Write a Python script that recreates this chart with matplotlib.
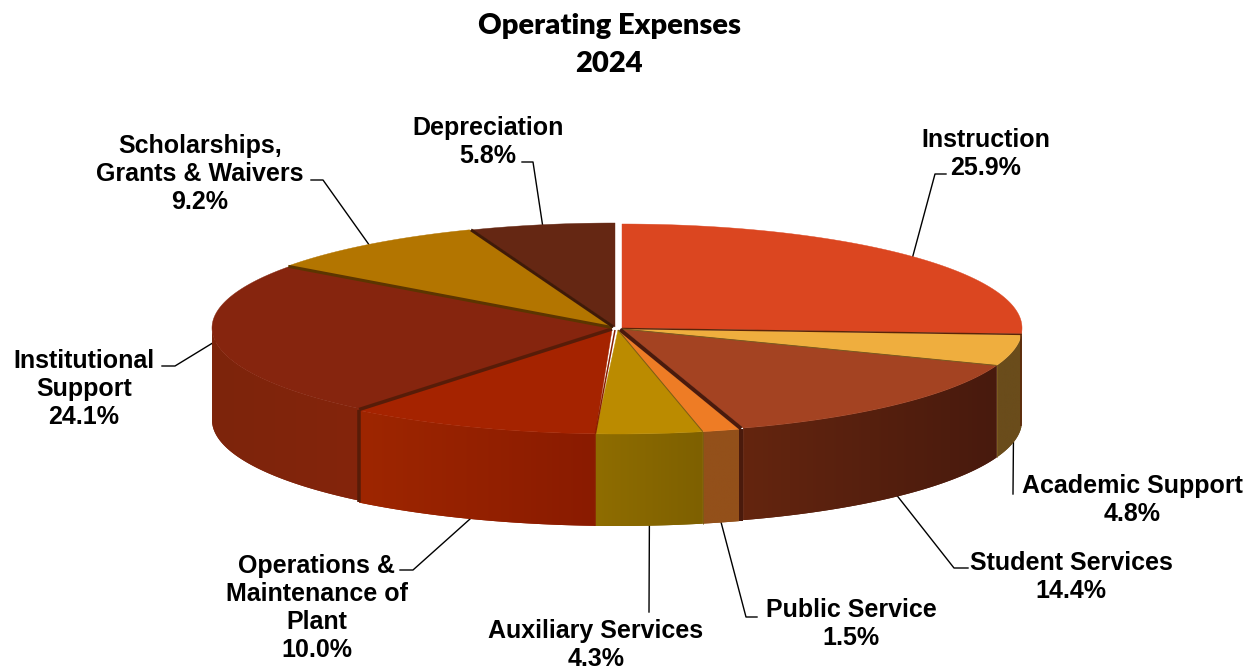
import numpy as np
import matplotlib
matplotlib.use("Agg")
import matplotlib.pyplot as plt
from matplotlib.colors import to_rgb
from matplotlib.patches import Polygon

# data
categories = ['Instruction', 'Academic Support', 'Student Services', 'Public Service',
              'Auxiliary Services', 'Operations &\nMaintenance of\nPlant', 'Institutional\nSupport',
              'Scholarships,\nGrants & Waivers', 'Depreciation']
shares = [25.9, 4.8, 14.4, 1.5, 4.3, 10.0, 24.1, 9.2, 5.8]

# colours
top_colors = ['#db4620', '#efae3e', '#a44322', '#ee7c25', '#bb8b00', '#a52300', '#86250e', '#b37500', '#652713']
side_left = ['#6a4c1b', '#6a4c1b', '#64250f', '#93501a', '#8f6d00', '#9e2600', '#7d250c', '#b37500', '#652713']
side_right = ['#6a4c1b', '#6a4c1b', '#481a0d', '#93501a', '#7e6000', '#8a1b00', '#84240b', '#b37500', '#652713']
edge_colors = ['#5a2408', '#7a5a1e', '#4a1a0c', '#7f5a14', '#8a1f00', '#571c08', '#5c3500', '#3f1a08', None]
edge_widths = [1.5, 1.0, 4.0, 1.0, 1.5, 3.5, 3.0, 3.0, 0]

# pie geometry in pixels
apex_x = [622, 622, 622, 618, 618, 612, 612, 612, 615]
apex_y = [328, 329, 329, 330, 330, 330, 328, 327, 327]
# perspective: the rim of a slice drifts sideways towards its first angle
rim_drift = [0, 0, 0, 0, 0, 6, 0, 0, 0]
rx, ry, depth = 400, 104, 92

# leader and label layout: elbow point, label centre
elbows = [(935, 174), None, (954, 568), (746, 617), None, (413, 570), (175, 366), (323, 180), (533, 162)]
elbow_ends = [(946, 174), (1013, 494), (968, 568), (757, 617), (649, 612), (400, 570), (162, 366), (311, 180), (522, 162)]
label_pos = [(986, 154), (1132, 500), (1071, 577), (851, 624), (596, 645),
             (317, 608), (84, 389), (200, 174), (488, 142)]

fig = plt.figure(figsize=(12.47, 6.69), dpi=100)
ax = fig.add_axes([0, 0, 1, 1])
ax.axis('off')

fracs = np.array(shares) / sum(shares) * 360
ends = np.cumsum(fracs)
starts = ends - fracs


def rim(i, deg, drop=0):
    t = np.radians(deg)
    shift = rim_drift[i] * (ends[i] - np.asarray(deg)) / fracs[i]
    return apex_x[i] + shift + rx * np.sin(t), apex_y[i] - ry * np.cos(t) + drop


# back slices first, front ones last
order = [8, 7, 6, 0, 1, 2, 5, 3, 4]
for i in order:
    # side wall, only the part facing us, gradient image clipped to the wall
    a = max(starts[i], 90)
    b = min(ends[i], 270)
    if b > a:
        th = np.linspace(a, b, 100)
        xs, ys = rim(i, th)
        wall = np.c_[np.r_[xs, xs[::-1]], np.r_[ys, ys[::-1] + depth]]
        c_l, c_r = np.array(to_rgb(side_left[i])), np.array(to_rgb(side_right[i]))
        grad = np.linspace(0, 1, 64)[None, :, None]
        img = c_l[None, None, :] + (c_r - c_l)[None, None, :] * grad
        patch = Polygon(wall, closed=True, facecolor=(c_l + c_r) / 2, edgecolor='none', zorder=2)
        ax.add_patch(patch)
        im = ax.imshow(img, extent=[xs.min(), xs.max(), ys.max() + depth, ys.min()], aspect='auto',
                       interpolation='bilinear', zorder=2)
        im.set_clip_path(patch)
    # top face
    th = np.linspace(starts[i], ends[i], 200)
    xs, ys = rim(i, th)
    ax.fill(np.r_[apex_x[i], xs], np.r_[apex_y[i], ys], color=top_colors[i], lw=0.3, zorder=3)

ax.set_xlim(0, 1247)
ax.set_ylim(669, 0)

# boundaries between slices
n = len(shares)
for i in range(n - 1):
    j = i + 1
    x_a, y_a = rim(i, ends[i])
    x_b, y_b = rim(j, ends[i])
    xe, ye = (x_a + x_b) / 2, (y_a + y_b) / 2
    ax0 = (apex_x[i] + apex_x[j]) / 2
    ay0 = (apex_y[i] + apex_y[j]) / 2
    ax.plot([ax0, xe], [ay0, ye], color=edge_colors[i], lw=edge_widths[i] * 0.72,
            solid_capstyle='butt', zorder=4)
    if 90 < ends[i] < 270:
        ax.plot([xe, xe], [ye, ye + depth], color=edge_colors[i], lw=edge_widths[i] * 0.72,
                solid_capstyle='butt', zorder=4)

# leaders start on the rim at the middle of each slice
for i in range(n):
    mid = (starts[i] + ends[i]) / 2
    drop = depth if 90 < mid < 250 else 0
    px, py = rim(i, mid, drop)
    xs, ys = [px], [py]
    if elbows[i] is not None:
        xs.append(elbows[i][0])
        ys.append(elbows[i][1])
    xs.append(elbow_ends[i][0])
    ys.append(elbow_ends[i][1])
    ax.plot(xs, ys, color='black', lw=1.0, zorder=1)
    ax.text(label_pos[i][0], label_pos[i][1], '%s\n%.1f%%' % (categories[i], shares[i]),
            ha='center', va='center', fontsize=18, fontweight='bold', family='Liberation Sans',
            linespacing=1.22, zorder=5)

ax.text(609, 45, 'Operating Expenses\n2024', ha='center', va='center', fontsize=21, fontweight='heavy',
        family='Lato', linespacing=1.55)

fig.savefig('out.png', dpi=100)
